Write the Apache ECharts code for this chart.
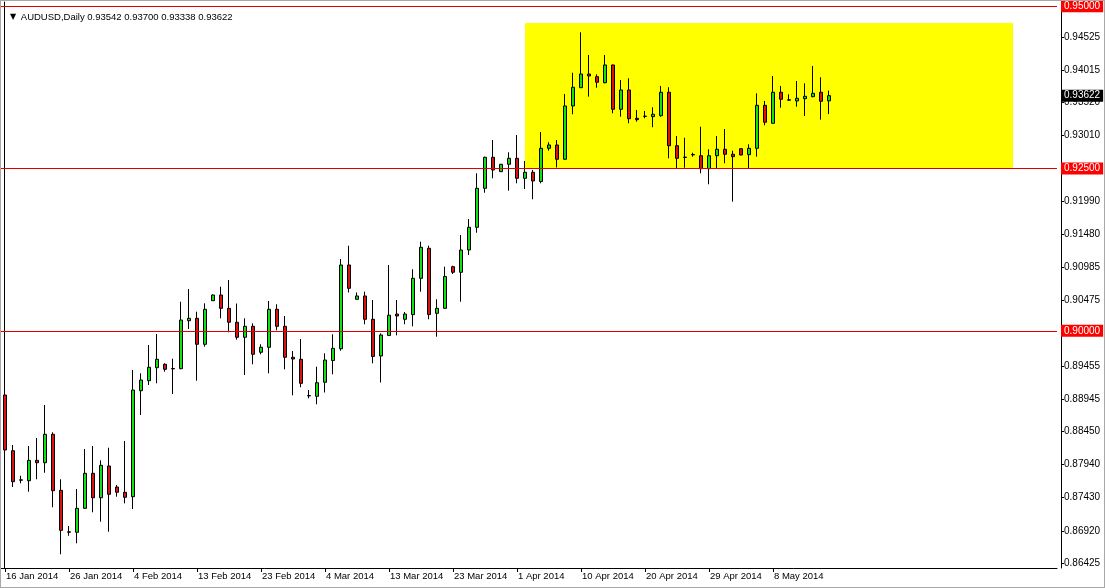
<!DOCTYPE html>
<html>
<head>
<meta charset="utf-8">
<script src="https://cdn.jsdelivr.net/npm/echarts@6.0.0/dist/echarts.min.js"></script>
<style>
html,body{margin:0;padding:0;background:#fff;}
#wrap{position:relative;width:1105px;height:588px;}
#c{width:1105px;height:588px;}
#frame{position:absolute;left:0;top:0;width:1105px;height:588px;box-sizing:border-box;border:1px solid #a8a8a8;pointer-events:none;}
</style>
</head>
<body>
<div id="wrap"><div id="c"></div><div id="frame"></div></div>
<script>
// ---- data ----
const symbol = 'AUDUSD';
const period = 'Daily';

const janDates = ['16 Jan 2014','17 Jan 2014','19 Jan 2014','20 Jan 2014','21 Jan 2014','22 Jan 2014','23 Jan 2014','24 Jan 2014','26 Jan 2014','27 Jan 2014','28 Jan 2014','29 Jan 2014','30 Jan 2014','31 Jan 2014'];
const febDates = ['2 Feb 2014','3 Feb 2014','4 Feb 2014','5 Feb 2014','6 Feb 2014','7 Feb 2014','9 Feb 2014','10 Feb 2014','11 Feb 2014','12 Feb 2014','13 Feb 2014','14 Feb 2014','16 Feb 2014','17 Feb 2014','18 Feb 2014','19 Feb 2014','20 Feb 2014','21 Feb 2014','23 Feb 2014','24 Feb 2014','25 Feb 2014','26 Feb 2014','27 Feb 2014','28 Feb 2014'];
const marDates = ['2 Mar 2014','3 Mar 2014','4 Mar 2014','5 Mar 2014','6 Mar 2014','7 Mar 2014','9 Mar 2014','10 Mar 2014','11 Mar 2014','12 Mar 2014','13 Mar 2014','14 Mar 2014','16 Mar 2014','17 Mar 2014','18 Mar 2014','19 Mar 2014','20 Mar 2014','21 Mar 2014','23 Mar 2014','24 Mar 2014','25 Mar 2014','26 Mar 2014','27 Mar 2014','28 Mar 2014','30 Mar 2014','31 Mar 2014'];
const aprDates = ['1 Apr 2014','2 Apr 2014','3 Apr 2014','4 Apr 2014','6 Apr 2014','7 Apr 2014','8 Apr 2014','9 Apr 2014','10 Apr 2014','11 Apr 2014','13 Apr 2014','14 Apr 2014','15 Apr 2014','16 Apr 2014','17 Apr 2014','18 Apr 2014','20 Apr 2014','21 Apr 2014','22 Apr 2014','23 Apr 2014','24 Apr 2014','25 Apr 2014','27 Apr 2014','28 Apr 2014','29 Apr 2014','30 Apr 2014'];
const mayDates = ['1 May 2014','2 May 2014','4 May 2014','5 May 2014','6 May 2014','7 May 2014','8 May 2014','9 May 2014','11 May 2014','12 May 2014','13 May 2014','14 May 2014','15 May 2014','16 May 2014'];

// [open, high, low, close]
const janBars = [
  [0.89012,0.89043,0.87734,0.88165],[0.88154,0.88242,0.87595,0.87677],[0.87700,0.87769,0.87652,0.87706],
  [0.87692,0.88227,0.87523,0.88006],[0.88006,0.88350,0.87714,0.87969],[0.87969,0.88858,0.87815,0.88407],
  [0.88407,0.88438,0.87283,0.87538],[0.87544,0.87714,0.86559,0.86928],[0.86905,0.86995,0.86845,0.86899],
  [0.86898,0.87564,0.86728,0.87267],[0.87267,0.88180,0.87260,0.87806],[0.87806,0.88227,0.87206,0.87430],
  [0.87430,0.88006,0.87061,0.87929],[0.87919,0.88200,0.86907,0.87483]
];
const febBars = [
  [0.87595,0.87626,0.87446,0.87514],[0.87514,0.88304,0.87344,0.87437],[0.87446,0.89397,0.87256,0.89089],
  [0.89078,0.89346,0.88704,0.89243],[0.89232,0.89782,0.89166,0.89439],[0.89432,0.89951,0.89192,0.89562],
  [0.89485,0.89500,0.89371,0.89408],[0.89420,0.89571,0.89027,0.89414],[0.89417,0.90449,0.89410,0.90167],
  [0.90156,0.90644,0.90028,0.90193],[0.90193,0.90295,0.89232,0.89793],[0.89793,0.90424,0.89756,0.90332],
  [0.90464,0.90560,0.90460,0.90552],[0.90552,0.90680,0.90193,0.90347],[0.90347,0.90783,0.89978,0.90132],
  [0.90132,0.90421,0.89864,0.89901],[0.89901,0.90193,0.89320,0.90070],[0.90070,0.90116,0.89485,0.89639],
  [0.89670,0.89793,0.89639,0.89747],[0.89747,0.90460,0.89346,0.90332],[0.90332,0.90409,0.90008,0.90070],
  [0.90070,0.90229,0.89408,0.89593],[0.89593,0.89690,0.89007,0.89566],[0.89562,0.89874,0.89131,0.89192]
];
const marBars = [
  [0.88998,0.89089,0.88961,0.89004],[0.88992,0.89448,0.88869,0.89201],[0.89208,0.89654,0.89051,0.89551],
  [0.89543,0.89947,0.89331,0.89731],[0.89724,0.91106,0.89694,0.91014],[0.91014,0.91311,0.90591,0.90655],
  [0.90486,0.90591,0.90483,0.90537],[0.90537,0.90603,0.90101,0.90178],[0.90178,0.90475,0.89500,0.89605],
  [0.89613,0.89962,0.89205,0.89936],[0.89928,0.91014,0.89925,0.90241],[0.90259,0.90475,0.89931,0.90229],
  [0.90178,0.90290,0.90102,0.90259],[0.90250,0.90949,0.90070,0.90809],[0.90809,0.91373,0.90603,0.91287],
  [0.91271,0.91311,0.90178,0.90250],[0.90270,0.90486,0.89910,0.90347],[0.90347,0.90988,0.90344,0.90837],
  [0.90988,0.91003,0.90875,0.90902],[0.90902,0.91476,0.90449,0.91245],[0.91245,0.91722,0.91168,0.91595],
  [0.91595,0.92426,0.91511,0.92195],[0.92195,0.92682,0.92127,0.92673],[0.92673,0.92939,0.92349,0.92477],
  [0.92451,0.92570,0.92446,0.92565],[0.92565,0.92750,0.92158,0.92657]
];
const aprBars = [
  [0.92657,0.93016,0.92272,0.92349],[0.92349,0.92616,0.92184,0.92442],[0.92442,0.92477,0.92026,0.92308],
  [0.92300,0.93062,0.92272,0.92811],[0.92811,0.92904,0.92774,0.92862],[0.92862,0.92939,0.92516,0.92642],
  [0.92642,0.93647,0.92639,0.93463],[0.93463,0.93975,0.93335,0.93751],[0.93744,0.94598,0.93740,0.93955],
  [0.93955,0.94248,0.93606,0.93925],[0.93914,0.93951,0.93744,0.93828],[0.93821,0.94248,0.93812,0.94094],
  [0.94094,0.94100,0.93350,0.93412],[0.93412,0.93863,0.93298,0.93709],[0.93709,0.93889,0.93196,0.93267],
  [0.93273,0.93401,0.93221,0.93252],[0.93302,0.93386,0.93273,0.93306],[0.93298,0.93443,0.93135,0.93335],
  [0.93313,0.93771,0.93298,0.93674],[0.93674,0.93751,0.92657,0.92851],[0.92851,0.93001,0.92497,0.92657],
  [0.92676,0.92974,0.92512,0.92670],[0.92710,0.92743,0.92682,0.92716],[0.92697,0.93144,0.92426,0.92497],
  [0.92497,0.92796,0.92257,0.92697],[0.92697,0.93001,0.92497,0.92796]
];
const mayBars = [
  [0.92796,0.93108,0.92580,0.92719],[0.92719,0.92774,0.91989,0.92682],[0.92805,0.92808,0.92703,0.92708],
  [0.92713,0.92873,0.92497,0.92811],[0.92811,0.93658,0.92682,0.93473],[0.93473,0.93540,0.93165,0.93212],
  [0.93196,0.93925,0.93193,0.93674],[0.93674,0.93771,0.93436,0.93566],[0.93558,0.93643,0.93540,0.93552],
  [0.93540,0.93848,0.93452,0.93581],[0.93575,0.93812,0.93309,0.93612],[0.93606,0.94079,0.93597,0.93658],
  [0.93674,0.93905,0.93252,0.93535],[0.93542,0.93700,0.93338,0.93622]
];

const priceTicks = [0.94525,0.94015,0.93520,0.93010,0.92500,0.91990,0.91480,0.90985,0.90475,0.90000,0.89455,0.88945,0.88450,0.87940,0.87430,0.86920,0.86425];
const levels = [0.95000, 0.92500, 0.90000];          // red horizontal lines
const zoneLow = 0.92500, zoneHigh = 0.94741;        // yellow rectangle price range
const zoneFromDate = '2 Apr 2014';
const chartShiftBars = 28;                          // empty bars at right (chart shift)
const zoneExtraBars = 23;                           // yellow box runs this many bars past the last bar
const labelEvery = 8;                               // one date label every 8 bars
const yMin = 0.86348, yMax = 0.95064;

// ---- build ----
const dates = [].concat(janDates, febDates, marDates, aprDates, mayDates);
const bars = [].concat(janBars, febBars, marBars, aprBars, mayBars);
const cats = dates.slice();
for (let i = 0; i < chartShiftBars; i++) cats.push(' '.repeat(i + 1));
const candleData = bars.map(b => [b[0], b[3], b[2], b[1]]);
const last = bars[bars.length - 1];
const fmt = v => v.toFixed(5);
const FONT = 'Liberation Sans';
const showDate = idx => idx % labelEvery === 0 && idx < dates.length;

const chart = echarts.init(document.getElementById('c'), null, {renderer: 'canvas'});
chart.setOption({
  animation: false,
  backgroundColor: '#ffffff',
  title: {
    left: 5, top: 7,
    text: '{t|▼} ' + symbol + ',' + period + ' ' + last.map(fmt).join(' '),
    textStyle: {
      fontSize: 9.5, fontWeight: 'normal', fontFamily: FONT, color: '#000',
      rich: { t: { fontSize: 8, color: '#000', fontFamily: 'DejaVu Sans', padding: [0, 2, 0, 0] } }
    }
  },
  grid: { left: 1, top: 2, width: 1056, height: 566 },
  xAxis: {
    type: 'category',
    data: cats,
    boundaryGap: true,
    axisLine: { show: true, lineStyle: { color: '#000', width: 1 } },
    axisTick: { show: true, alignWithLabel: true, interval: showDate, length: 4, lineStyle: { color: '#000' } },
    axisLabel: { interval: showDate, align: 'left', margin: 3, color: '#000', fontFamily: FONT, fontSize: 9.5, padding: [0, 0, 0, 1] },
    splitLine: { show: false }
  },
  yAxis: [
    {
      type: 'value', position: 'right', min: yMin, max: yMax, offset: 4, scale: true,
      axisLine: { show: true, lineStyle: { color: '#000' } },
      axisTick: { show: true, length: 3, customValues: priceTicks, lineStyle: { color: '#000' } },
      axisLabel: { customValues: priceTicks, formatter: fmt, margin: 3, color: '#000', fontFamily: FONT, fontSize: 10 },
      splitLine: { show: false }
    },
    {
      type: 'value', position: 'left', min: yMin, max: yMax, offset: -3, scale: true,
      axisLine: { show: true, lineStyle: { color: '#000' } },
      axisTick: { show: false }, axisLabel: { show: false }, splitLine: { show: false }
    }
  ],
  series: [
    {
      type: 'line', data: [], z: 1, silent: true,
      markArea: {
        silent: true,
        itemStyle: { color: '#ffff00', opacity: 1, borderWidth: 0 },
        data: [[
          { xAxis: zoneFromDate, yAxis: zoneLow },
          { xAxis: dates.length - 1 + zoneExtraBars, yAxis: zoneHigh }
        ]]
      }
    },
    {
      type: 'line', data: [], z: 2, silent: true,
      markLine: {
        silent: true, symbol: ['none', 'none'], precision: 5,
        lineStyle: { color: '#e00000', width: 1, type: 'solid' },
        label: {
          show: true, position: 'end', distance: 4,
          formatter: p => fmt(p.value),
          backgroundColor: '#ff0000', color: '#ffffff',
          fontFamily: FONT, fontSize: 10, padding: [1, 3, 1, 3]
        },
        data: levels.map(v => ({ yAxis: v }))
      }
    },
    {
      type: 'candlestick',
      data: candleData,
      barWidth: 4,
      z: 3,
      itemStyle: {
        color: '#11e011', color0: '#dd1111',
        borderColor: '#000000', borderColor0: '#000000', borderWidth: 1
      },
      markLine: {
        silent: true, symbol: ['none', 'none'], precision: 5,
        lineStyle: { color: 'rgba(0,0,0,0)', width: 0 },
        label: {
          show: true, position: 'end', distance: 4,
          formatter: p => fmt(p.value),
          backgroundColor: '#000000', color: '#ffffff',
          fontFamily: FONT, fontSize: 10, padding: [1, 3, 1, 3]
        },
        data: [{ yAxis: last[3] }]
      }
    }
  ]
});
</script>
</body>
</html>
